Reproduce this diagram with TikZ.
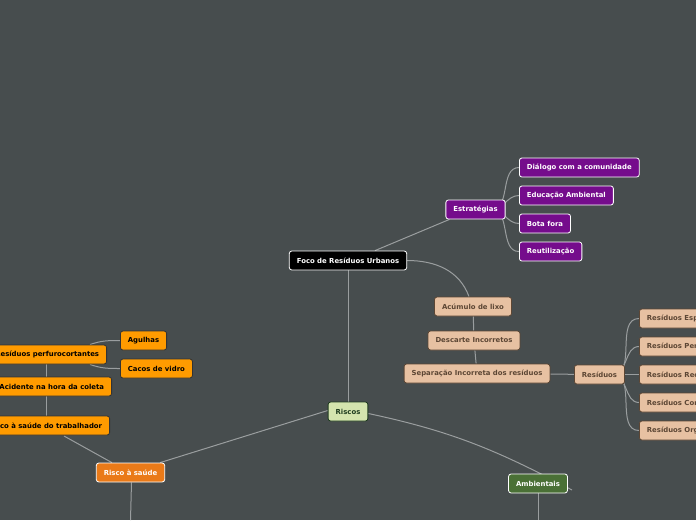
\documentclass[tikz,border=0pt]{standalone}
\usepackage{fontspec}
\setmainfont{DejaVu Sans}
\usepackage{xcolor}
\usetikzlibrary{positioning,calc,backgrounds}

\definecolor{bgcol}{HTML}{474D4E}
\definecolor{linkcol}{HTML}{9A9E9F}
\definecolor{estrcol}{HTML}{750C8C}
\definecolor{tancol}{HTML}{E7C1A2}
\definecolor{tantext}{HTML}{5C4634}
\definecolor{riscol}{HTML}{D4E4AE}
\definecolor{ristext}{HTML}{1E3B1E}
\definecolor{saudecol}{HTML}{EA7A18}
\definecolor{ambcol}{HTML}{4A7036}
\definecolor{leafcol}{HTML}{FF9B00}

\pgfdeclarelayer{links}
\pgfsetlayers{background,links,main}

\begin{document}
\begin{tikzpicture}[
  x=1pt, y=-1pt,
  every node/.style={font=\fontsize{6.9}{8}\selectfont\bfseries},
  topic/.style={draw=#1, line width=0.8pt, rounded corners=2.5pt,
    minimum height=19pt, inner xsep=7.5pt, inner ysep=0pt},
  link/.style={draw=linkcol, line width=1pt},
]
\begin{pgfonlayer}{background}
  \fill[bgcol] (0,0) rectangle (696,520);
\end{pgfonlayer}
\useasboundingbox (0,0) rectangle (696,520);

% --- centre and strategies
\node[topic=white, fill=black, text=white] (foco) at (348,260.5) {Foco de Resíduos Urbanos};
\node[topic=white, fill=estrcol, text=white] (estr) at (475.5,209.5) {Estratégias};
\node[topic=white, fill=estrcol, text=white, anchor=west] (dialogo) at (519,167.5) {Diálogo com a comunidade};
\node[topic=white, fill=estrcol, text=white, anchor=west] (educ) at (519,195.5) {Educação Ambiental};
\node[topic=white, fill=estrcol, text=white, anchor=west] (bota) at (519,223.5) {Bota fora};
\node[topic=white, fill=estrcol, text=white, anchor=west] (reut) at (519,251.5) {Reutilização};

% --- causes chain
\node[topic=tantext, fill=tancol, text=tantext] (acum) at (473,306.5) {Acúmulo de lixo};
\node[topic=tantext, fill=tancol, text=tantext] (desc) at (474,340.5) {Descarte Incorretos};
\node[topic=tantext, fill=tancol, text=tantext] (separ) at (477,373.5) {Separação Incorreta dos resíduos};
\node[topic=tantext, fill=tancol, text=tantext] (resid) at (599.5,374.5) {Resíduos};
\node[topic=tantext, fill=tancol, text=tantext, anchor=west] (resesp) at (639,318.5) {Resíduos Especiais};
\node[topic=tantext, fill=tancol, text=tantext, anchor=west] (resper) at (639,346.5) {Resíduos Perigosos};
\node[topic=tantext, fill=tancol, text=tantext, anchor=west] (resrec) at (639,374.5) {Resíduos Recicláveis};
\node[topic=tantext, fill=tancol, text=tantext, anchor=west] (rescom) at (639,402.5) {Resíduos Comuns};
\node[topic=tantext, fill=tancol, text=tantext, anchor=west] (resorg) at (639,430.5) {Resíduos Orgânicos};

% --- risks
\node[topic=ristext, fill=riscol, text=ristext] (riscos) at (348,411.5) {Riscos};
\node[topic=white, fill=saudecol, text=white] (saude) at (130.5,472.5) {Risco à saúde};
\node[topic=white, fill=ambcol, text=white] (amb) at (538,483.5) {Ambientais};
\coordinate (ambend) at (572,490);

% --- health risks (left, cut by the edge)
\node[topic=black!80, fill=leafcol, text=black, anchor=east] (trab) at (110,425.5) {Risco à saúde do trabalhador};
\node[topic=black!80, fill=leafcol, text=black, anchor=east] (acid) at (112,386.5) {Acidente na hora da coleta};
\node[topic=black!80, fill=leafcol, text=black, anchor=east] (perf) at (107,354.5) {Resíduos perfurocortantes};
\node[topic=black!80, fill=leafcol, text=black, anchor=west] (agul) at (120,340.5) {Agulhas};
\node[topic=black!80, fill=leafcol, text=black, anchor=west] (cacos) at (120,368.5) {Cacos de vidro};

% --- connectors
\begin{pgfonlayer}{links}
  \draw[link] ($(foco.north)+(27,0)$) -- ($(estr.south west)+(4,0)$);
  \foreach \leaf in {dialogo,educ,bota,reut}
    \draw[link] ($(estr.east)+(-14,0)$) to[out=0,in=180] (\leaf.west);
  \draw[link] (foco.east) to[out=0,in=110] ($(acum.north)+(-4,0)$);
  \draw[link] (acum) -- (desc);
  \draw[link] (desc) -- (separ);
  \draw[link] (separ) -- (resid);
  \foreach \leaf in {resesp,resper,resrec,rescom,resorg}
    \draw[link] ($(resid.east)+(-12,0)$) to[out=0,in=180] (\leaf.west);
  \draw[link] (foco) -- (riscos);
  \draw[link] ($(riscos.west)+(0,-1)$) -- ($(saude.north east)+(-5,0)$);
  \draw[link] ($(riscos.east)+(0,2)$) to[out=-12,in=152] (ambend);
  \draw[link] (amb.south) -- (amb.south |- 0,520);
  \draw[link] ($(saude.south)+(1,0)$) -- (130.5,520);
  \draw[link] ($(saude.north west)+(16,0)$) -- (64,436);
  \draw[link] (46,364) -- (46,416);
  \draw[link] ($(perf.north east)+(-17,0)$) to[out=20,in=180] (agul.west);
  \draw[link] ($(perf.south east)+(-17,0)$) to[out=-20,in=180] (cacos.west);
\end{pgfonlayer}
\end{tikzpicture}
\end{document}
